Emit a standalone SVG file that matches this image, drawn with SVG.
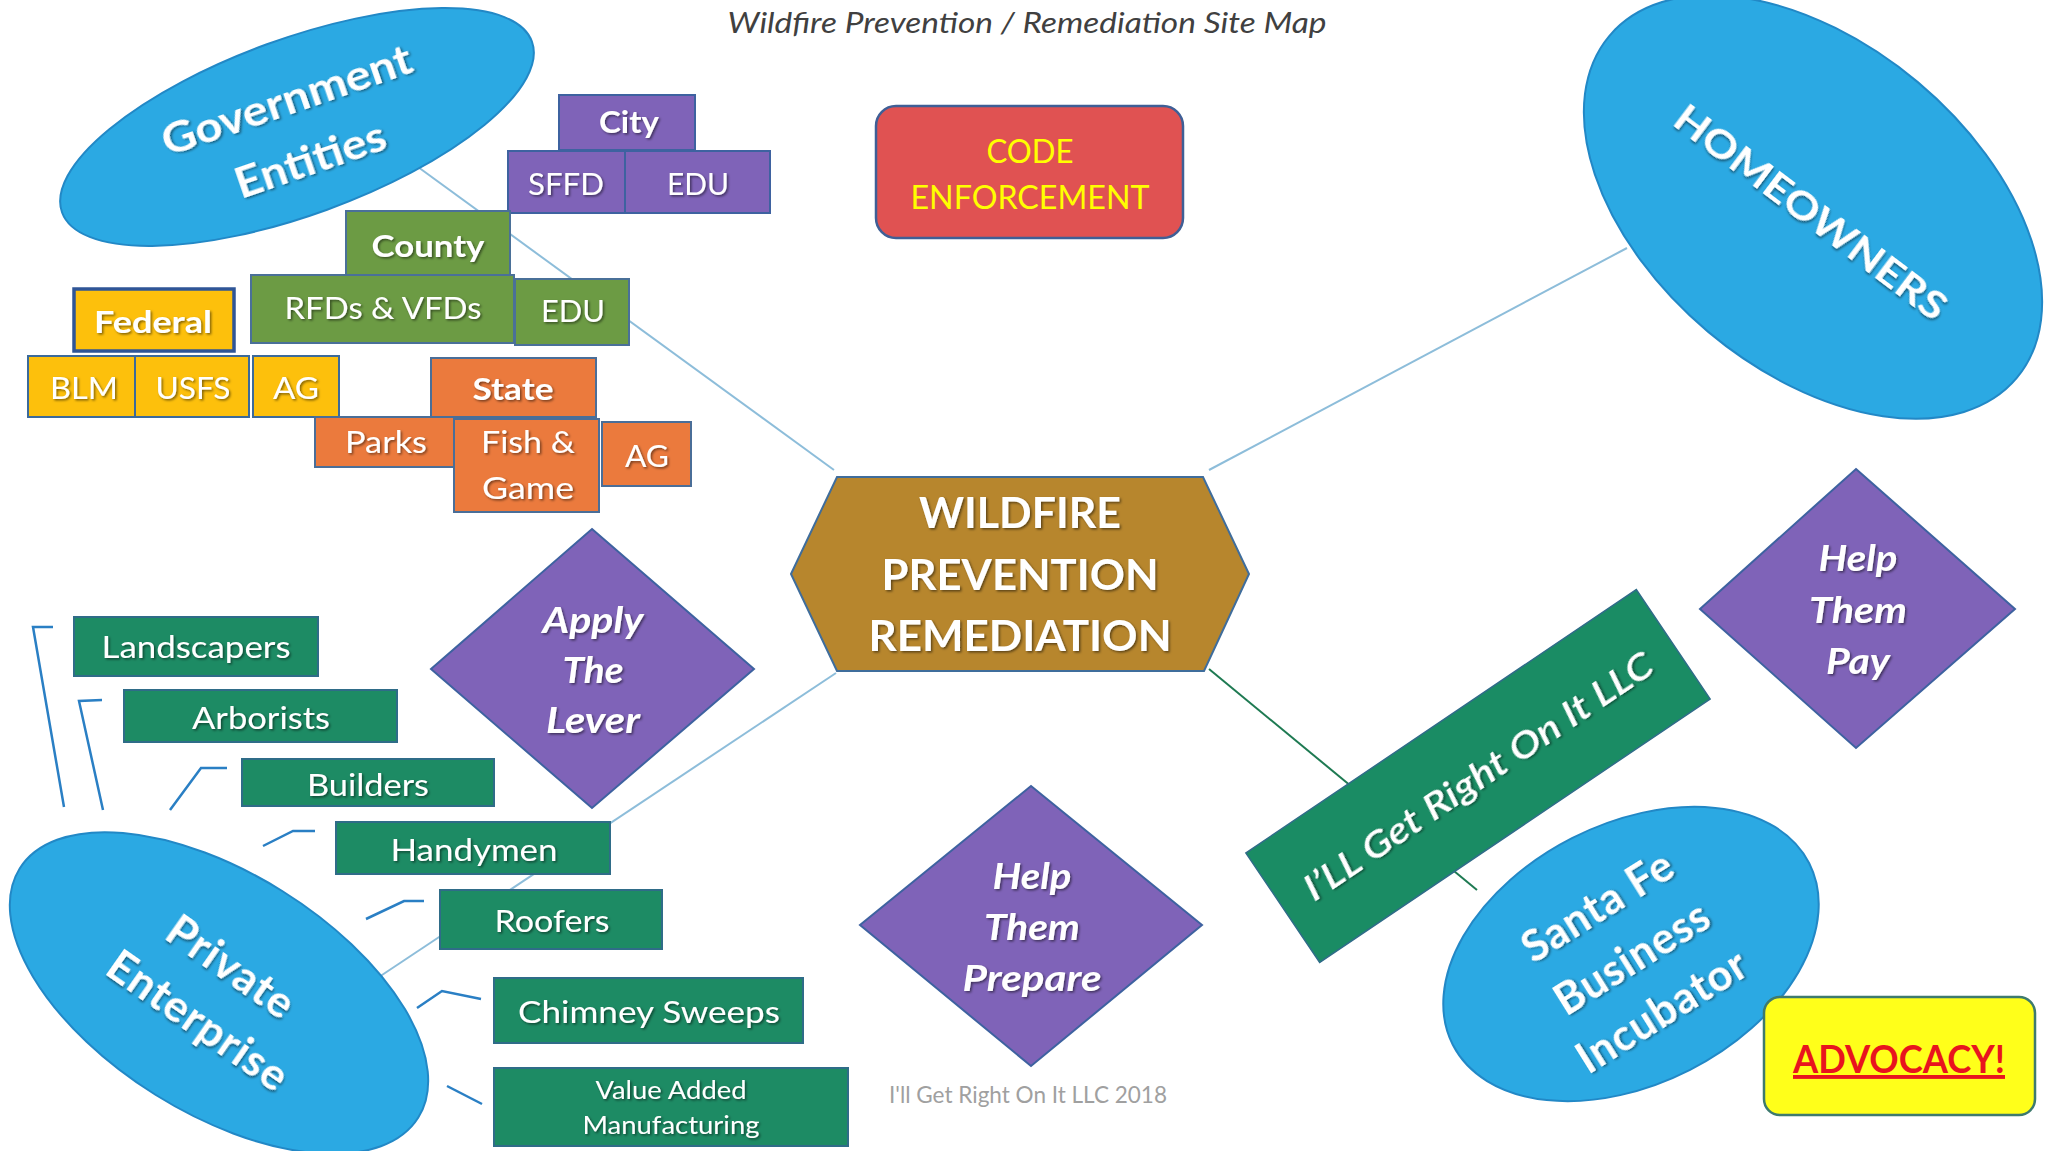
<svg xmlns="http://www.w3.org/2000/svg" width="2049" height="1151" viewBox="0 0 2049 1151">
<defs>
<filter id="sh" x="-10%" y="-30%" width="120%" height="160%"><feDropShadow dx="1.5" dy="1.5" stdDeviation="1" flood-color="#000" flood-opacity="0.5"/></filter>
<style>
text{font-family:Lato,"Liberation Sans",sans-serif;text-anchor:middle}
.w{fill:#fff;filter:url(#sh)}
.b{font-weight:bold}
.i{font-style:italic}
.ell{fill:#2BA9E3;stroke:#2288C6;stroke-width:2}
.pur{fill:#7F63B8;stroke:#3E62A0;stroke-width:2}
.olv{fill:#6C9B44;stroke:#4A7098;stroke-width:2}
.gld{fill:#FDC00C;stroke:#3C6A9A;stroke-width:2}
.org{fill:#EB7A3D;stroke:#4A6E98;stroke-width:2}
.tea{fill:#1D8B64;stroke:#2F6C88;stroke-width:2}
.con{stroke:#8DBDDA;stroke-width:2;fill:none}
.brk{stroke:#2A7FC4;stroke-width:2.5;fill:none}
</style>
</defs>
<rect width="2049" height="1151" fill="#fff"/>
<text x="1027" y="33" font-size="28" class="i" fill="#404040" textLength="599" lengthAdjust="spacingAndGlyphs">Wildfire Prevention / Remediation Site Map</text>
<g id="connectors">
<line class="con" x1="418" y1="167" x2="834" y2="470"/>
<line class="con" x1="1209" y1="470" x2="1627" y2="248"/>
<line class="con" x1="836" y1="673" x2="379" y2="977"/>
<line x1="1209" y1="669" x2="1477" y2="890" stroke="#1E7A52" stroke-width="2"/>
<polyline class="brk" points="53,627 33,627 64,807"/>
<polyline class="brk" points="102,700 79,701 103,810"/>
<polyline class="brk" points="227,768 201,768 170,810"/>
<polyline class="brk" points="315,831 293,831 263,846"/>
<polyline class="brk" points="424,901 404,901 366,919"/>
<polyline class="brk" points="481,999 442,991 417,1008"/>
<line class="brk" x1="447" y1="1086" x2="482" y2="1104"/>
</g>
<g id="government">
<ellipse class="ell" cx="297" cy="127" rx="250" ry="88" transform="rotate(-20 297 127)"/>
<g transform="translate(297,127) rotate(-19)">
<text x="-1" y="-14" font-size="42" class="w b" textLength="262" lengthAdjust="spacingAndGlyphs">Government</text>
<text x="2" y="50" font-size="42" class="w b" textLength="157" lengthAdjust="spacingAndGlyphs">Entities</text>
</g>
</g>
<g id="city">
<rect class="pur" x="559" y="95" width="136" height="55"/>
<text x="629" y="133" font-size="31" class="w b" textLength="60" lengthAdjust="spacingAndGlyphs">City</text>
</g>
<g id="sffd">
<rect class="pur" x="508" y="151" width="117" height="62"/>
<text x="566" y="195" font-size="31" class="w" textLength="76" lengthAdjust="spacingAndGlyphs">SFFD</text>
</g>
<g id="city-edu">
<rect class="pur" x="625" y="151" width="145" height="62"/>
<text x="698" y="195" font-size="31" class="w" textLength="62" lengthAdjust="spacingAndGlyphs">EDU</text>
</g>
<g id="county">
<rect class="olv" x="346" y="211" width="164" height="64"/>
<text x="428" y="257" font-size="31" class="w b" textLength="113" lengthAdjust="spacingAndGlyphs">County</text>
</g>
<g id="rfds">
<rect class="olv" x="251" y="275" width="263" height="68"/>
<text x="383" y="319" font-size="31" class="w" textLength="197" lengthAdjust="spacingAndGlyphs">RFDs &amp; VFDs</text>
</g>
<g id="county-edu">
<rect class="olv" x="515" y="279" width="114" height="66"/>
<text x="573" y="322" font-size="31" class="w" textLength="64" lengthAdjust="spacingAndGlyphs">EDU</text>
</g>
<g id="federal">
<rect x="74" y="289" width="160" height="62" fill="#FDC00C" stroke="#2F5597" stroke-width="3.5"/>
<text x="153" y="333" font-size="31" class="w b" textLength="118" lengthAdjust="spacingAndGlyphs">Federal</text>
</g>
<g id="blm">
<rect class="gld" x="28" y="356" width="107" height="61"/>
<text x="84" y="399" font-size="31" class="w" textLength="68" lengthAdjust="spacingAndGlyphs">BLM</text>
</g>
<g id="usfs">
<rect class="gld" x="135" y="356" width="114" height="61"/>
<text x="193" y="399" font-size="31" class="w" textLength="75" lengthAdjust="spacingAndGlyphs">USFS</text>
</g>
<g id="federal-ag">
<rect class="gld" x="253" y="356" width="86" height="61"/>
<text x="296" y="399" font-size="31" class="w" textLength="46" lengthAdjust="spacingAndGlyphs">AG</text>
</g>
<g id="state">
<rect class="org" x="431" y="358" width="165" height="59"/>
<text x="513" y="400" font-size="31" class="w b" textLength="81" lengthAdjust="spacingAndGlyphs">State</text>
</g>
<g id="parks">
<rect class="org" x="315" y="417" width="139" height="50"/>
<text x="386" y="453" font-size="31" class="w" textLength="82" lengthAdjust="spacingAndGlyphs">Parks</text>
</g>
<g id="fish-game">
<rect class="org" x="454" y="419" width="145" height="93"/>
<text x="528" y="453" font-size="31" class="w" textLength="94" lengthAdjust="spacingAndGlyphs">Fish &amp;</text>
<text x="528" y="499" font-size="31" class="w" textLength="92" lengthAdjust="spacingAndGlyphs">Game</text>
</g>
<g id="state-ag">
<rect class="org" x="602" y="422" width="89" height="64"/>
<text x="647" y="467" font-size="31" class="w" textLength="44" lengthAdjust="spacingAndGlyphs">AG</text>
</g>
<g id="code-enforcement">
<rect x="876" y="106" width="307" height="132" rx="20" fill="#E05252" stroke="#3F5F96" stroke-width="2.5"/>
<text x="1030" y="163" font-size="32" fill="#FFFF00" textLength="87" lengthAdjust="spacingAndGlyphs">CODE</text>
<text x="1030" y="209" font-size="32" fill="#FFFF00" textLength="239" lengthAdjust="spacingAndGlyphs">ENFORCEMENT</text>
</g>
<g id="homeowners">
<ellipse class="ell" cx="1813" cy="207" rx="266" ry="163" transform="rotate(40 1813 207)"/>
<g transform="translate(1811,212) rotate(37)">
<text x="0" y="14" font-size="39" class="w b" textLength="330" lengthAdjust="spacingAndGlyphs">HOMEOWNERS</text>
</g>
</g>
<g id="wildfire">
<polygon points="791,574 837,477 1203,477 1249,574 1204,671 837,671" fill="#B7862D" stroke="#3F6D9C" stroke-width="2"/>
<text x="1020" y="528" font-size="42" class="w b" textLength="202" lengthAdjust="spacingAndGlyphs">WILDFIRE</text>
<text x="1020" y="590" font-size="42" class="w b" textLength="277" lengthAdjust="spacingAndGlyphs">PREVENTION</text>
<text x="1020" y="651" font-size="42" class="w b" textLength="303" lengthAdjust="spacingAndGlyphs">REMEDIATION</text>
</g>
<g id="apply-lever">
<polygon class="pur" points="592,529 754,669 592,808 431,669"/>
<text x="593" y="633" font-size="37" class="w b i" textLength="101" lengthAdjust="spacingAndGlyphs">Apply</text>
<text x="593" y="683" font-size="37" class="w b i" textLength="61" lengthAdjust="spacingAndGlyphs">The</text>
<text x="593" y="733" font-size="37" class="w b i" textLength="94" lengthAdjust="spacingAndGlyphs">Lever</text>
</g>
<g id="help-pay">
<polygon class="pur" points="1856,469 2015,609 1856,748 1700,609"/>
<text x="1858" y="571" font-size="37" class="w b i" textLength="79" lengthAdjust="spacingAndGlyphs">Help</text>
<text x="1858" y="623" font-size="37" class="w b i" textLength="98" lengthAdjust="spacingAndGlyphs">Them</text>
<text x="1858" y="674" font-size="37" class="w b i" textLength="64" lengthAdjust="spacingAndGlyphs">Pay</text>
</g>
<g id="help-prepare">
<polygon class="pur" points="1031,786 1202,925 1031,1066 860,925"/>
<text x="1032" y="889" font-size="37" class="w b i" textLength="79" lengthAdjust="spacingAndGlyphs">Help</text>
<text x="1032" y="940" font-size="37" class="w b i" textLength="96" lengthAdjust="spacingAndGlyphs">Them</text>
<text x="1032" y="991" font-size="37" class="w b i" textLength="139" lengthAdjust="spacingAndGlyphs">Prepare</text>
</g>
<g id="igetrightonit">
<g transform="translate(1478,776) rotate(-34)">
<rect x="-235.5" y="-66" width="471" height="132" fill="#1A8C64" stroke="#2F6C88" stroke-width="1.5"/>
<text x="0" y="13" font-size="36" class="w i" font-weight="600" textLength="413" lengthAdjust="spacingAndGlyphs">I’LL Get Right On It LLC</text>
</g>
</g>
<g id="santa-fe">
<ellipse class="ell" cx="1631" cy="954" rx="200" ry="130" transform="rotate(-27 1631 954)"/>
<g transform="translate(1631,954) rotate(-32)">
<text x="-3" y="-43" font-size="43" class="w b" letter-spacing="1">Santa Fe</text>
<text x="-1" y="19" font-size="43" class="w b" letter-spacing="1">Business</text>
<text x="-4" y="80" font-size="43" class="w b" letter-spacing="1">Incubator</text>
</g>
</g>
<g id="advocacy">
<rect x="1764" y="997" width="271" height="118" rx="16" fill="#FFFF1A" stroke="#3E7A6E" stroke-width="2.5"/>
<text x="1899" y="1073" font-size="39" class="b" fill="#E8141E" text-decoration="underline" textLength="212" lengthAdjust="spacingAndGlyphs">ADVOCACY!</text>
</g>
<g id="private-enterprise">
<ellipse class="ell" cx="219" cy="993" rx="235" ry="120" transform="rotate(32 219 993)"/>
<g transform="translate(219,993) rotate(35)">
<text x="-5" y="-13" font-size="44" class="w b" letter-spacing="1">Private</text>
<text x="-1" y="50" font-size="44" class="w b" letter-spacing="1">Enterprise</text>
</g>
</g>
<g id="landscapers">
<rect class="tea" x="74" y="617" width="244" height="59"/>
<text x="196" y="658" font-size="30" class="w" textLength="189" lengthAdjust="spacingAndGlyphs">Landscapers</text>
</g>
<g id="arborists">
<rect class="tea" x="124" y="690" width="273" height="52"/>
<text x="261" y="729" font-size="30" class="w" textLength="138" lengthAdjust="spacingAndGlyphs">Arborists</text>
</g>
<g id="builders">
<rect class="tea" x="242" y="759" width="252" height="47"/>
<text x="368" y="796" font-size="30" class="w" textLength="122" lengthAdjust="spacingAndGlyphs">Builders</text>
</g>
<g id="handymen">
<rect class="tea" x="336" y="822" width="274" height="52"/>
<text x="474" y="861" font-size="30" class="w" textLength="167" lengthAdjust="spacingAndGlyphs">Handymen</text>
</g>
<g id="roofers">
<rect class="tea" x="440" y="890" width="222" height="59"/>
<text x="552" y="932" font-size="30" class="w" textLength="115" lengthAdjust="spacingAndGlyphs">Roofers</text>
</g>
<g id="chimney-sweeps">
<rect class="tea" x="494" y="978" width="309" height="65"/>
<text x="649" y="1023" font-size="30" class="w" textLength="262" lengthAdjust="spacingAndGlyphs">Chimney Sweeps</text>
</g>
<g id="value-added">
<rect class="tea" x="494" y="1068" width="354" height="78"/>
<text x="671" y="1099" font-size="25" class="w" textLength="151" lengthAdjust="spacingAndGlyphs">Value Added</text>
<text x="671" y="1134" font-size="25" class="w" textLength="177" lengthAdjust="spacingAndGlyphs">Manufacturing</text>
</g>
<text x="1028" y="1103" font-size="23" fill="#A0A0A0" textLength="278" lengthAdjust="spacingAndGlyphs">I'll Get Right On It LLC 2018</text>
</svg>
